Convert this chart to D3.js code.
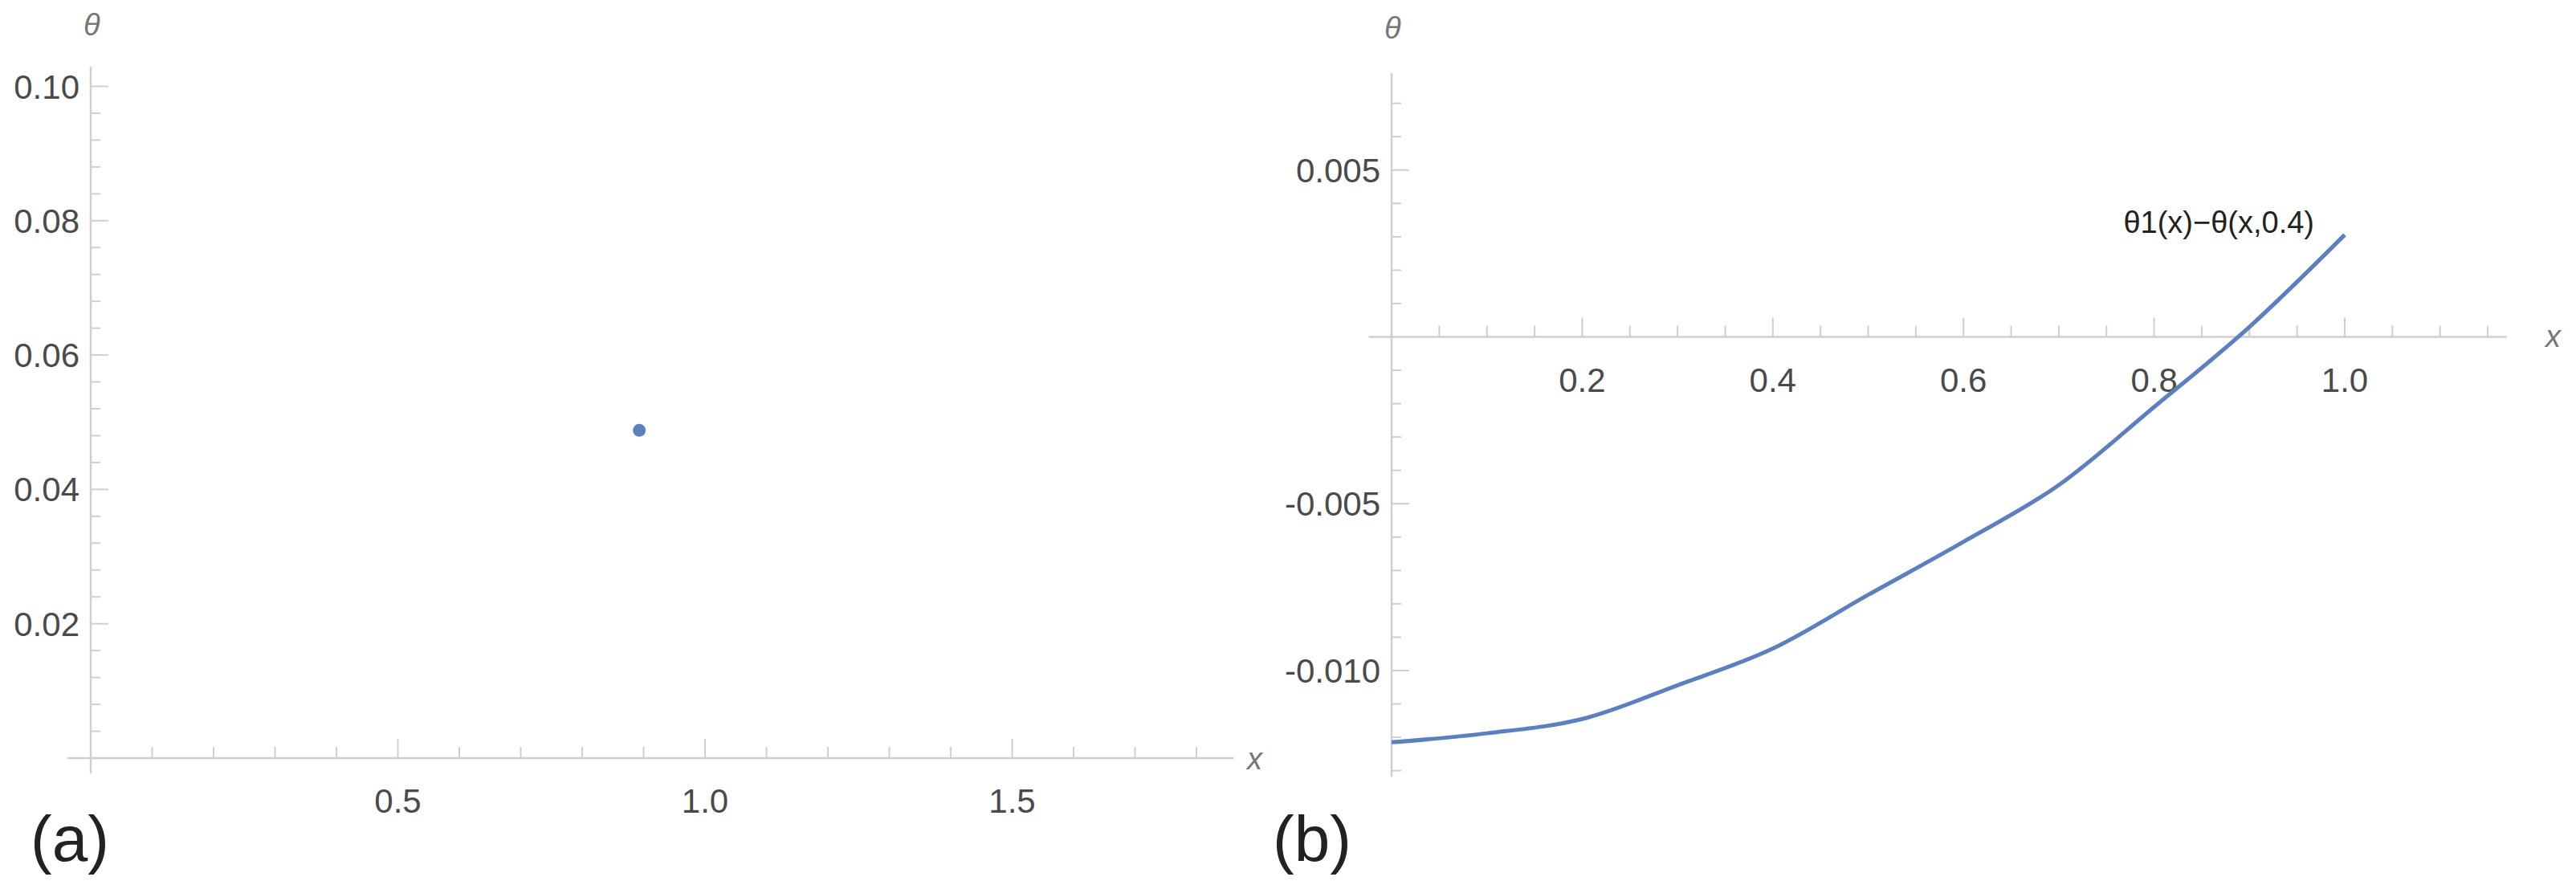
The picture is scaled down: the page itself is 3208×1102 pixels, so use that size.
<!DOCTYPE html>
<html><head><meta charset="utf-8">
<script src="https://cdn.jsdelivr.net/npm/d3@7"></script>
<style>body{margin:0;background:#fff}svg{display:block}text{font-family:"Liberation Sans",Arial,sans-serif;}</style>
</head><body>
<script>
// Panel (a) data
const pointA = [{x:0.893, y:0.0488}];
const ticksAx = [0.5, 1.0, 1.5];
const ticksAy = [0.02, 0.04, 0.06, 0.08, 0.10];
// Panel (b) data
const curveX = [0, 0.1, 0.2, 0.3, 0.4, 0.5, 0.6, 0.7, 0.8, 0.9, 1.0];
const curveY = [-0.01215, -0.01188, -0.01145, -0.01044, -0.00934, -0.00773, -0.00614, -0.00444, -0.0021, 0.0003, 0.00306];
const ticksBx = [0.2, 0.4, 0.6, 0.8, 1.0];
const ticksBy = [-0.010, -0.005, 0.005];
const labelB = "θ1(x)−θ(x,0.4)";

const W=3208,H=1102;
const svg=d3.select("body").append("svg").attr("width",W).attr("height",H);
const axCol="#cfcfcf", txtCol="#4a4a4a", blue="#5b7fbf";

function axes(g, x, y, xd, yd, xt, yt, xMinor, yMinor, fmtY, fmtX){
  const x0=x(0), y0=y(0);
  g.append("line").attr("x1",x(xd[0])).attr("x2",x(xd[1])).attr("y1",y0).attr("y2",y0).attr("stroke",axCol).attr("stroke-width",2.5);
  g.append("line").attr("x1",x0).attr("x2",x0).attr("y1",y(yd[0])).attr("y2",y(yd[1])).attr("stroke",axCol).attr("stroke-width",2.5);
  xMinor.forEach(v=>g.append("line").attr("x1",x(v)).attr("x2",x(v)).attr("y1",y0).attr("y2",y0-14).attr("stroke",axCol).attr("stroke-width",2));
  xt.forEach(v=>{g.append("line").attr("x1",x(v)).attr("x2",x(v)).attr("y1",y0).attr("y2",y0-24).attr("stroke",axCol).attr("stroke-width",2);
    g.append("text").attr("x",x(v)).attr("y",y0+68).attr("text-anchor","middle").attr("font-size",42).attr("fill",txtCol).text(fmtX(v));});
  yMinor.forEach(v=>g.append("line").attr("x1",x0).attr("x2",x0+12).attr("y1",y(v)).attr("y2",y(v)).attr("stroke",axCol).attr("stroke-width",2));
  yt.forEach(v=>{g.append("line").attr("x1",x0).attr("x2",x0+22).attr("y1",y(v)).attr("y2",y(v)).attr("stroke",axCol).attr("stroke-width",2);
    g.append("text").attr("x",x0-14).attr("y",y(v)+15).attr("text-anchor","end").attr("font-size",42).attr("fill",txtCol).text(fmtY(v));});
}
function range(a,b,s){const r=[];for(let v=a;v<=b+1e-9;v+=s)r.push(+v.toFixed(6));return r;}

// Panel (a)
const xa=d3.scaleLinear().domain([0,1]).range([113,878]);
const ya=d3.scaleLinear().domain([0,0.1]).range([944,107.5]);
const ga=svg.append("g");
axes(ga,xa,ya,[-0.038,1.861],[-0.0023,0.1029],ticksAx,ticksAy,
  range(0.1,1.8,0.1).filter(v=>!ticksAx.some(t=>Math.abs(t-v)<1e-6)),
  range(0.004,0.1,0.004).filter(v=>!ticksAy.some(t=>Math.abs(t-v)<1e-6)),
  v=>v.toFixed(2), v=>v.toFixed(1));
ga.selectAll("circle").data(pointA).join("circle").attr("cx",d=>xa(d.x)).attr("cy",d=>ya(d.y)).attr("r",8).attr("fill",blue);
ga.append("text").attr("x",1553).attr("y",958).attr("font-size",38).attr("font-style","italic").attr("fill","#777").text("x");
ga.append("text").attr("x",104).attr("y",44).attr("font-size",38).attr("font-style","italic").attr("fill","#777").text("θ");
svg.append("text").attr("x",38).attr("y",1072).attr("font-family","Liberation Serif,serif").attr("font-size",80).attr("fill","#222").text("(a)");

// Panel (b)
const xb=d3.scaleLinear().domain([0,1]).range([1733,2920]);
const yb=d3.scaleLinear().domain([-0.01,0]).range([835,419.5]);
const gb=svg.append("g");
axes(gb,xb,yb,[-0.024,1.17],[-0.01318,0.0079],ticksBx,ticksBy,
  range(0.05,1.15,0.05).filter(v=>!ticksBx.some(t=>Math.abs(t-v)<1e-6)),
  range(-0.013,0.0075,0.001).filter(v=>Math.abs(v)>1e-7&&!ticksBy.some(t=>Math.abs(t-v)<1e-6)),
  v=>v.toFixed(3).replace("−","-"), v=>v.toFixed(1));
const line=d3.line().x(d=>xb(d[0])).y(d=>yb(d[1])).curve(d3.curveMonotoneX);
gb.append("path").attr("d",line(curveX.map((v,i)=>[v,curveY[i]]))).attr("fill","none").attr("stroke",blue).attr("stroke-width",5);
gb.append("text").attr("x",2882).attr("y",290).attr("text-anchor","end").attr("font-size",38).attr("fill","#222").text(labelB);
gb.append("text").attr("x",3170).attr("y",432).attr("font-size",38).attr("font-style","italic").attr("fill","#777").text("x");
gb.append("text").attr("x",1724).attr("y",48).attr("font-size",38).attr("font-style","italic").attr("fill","#777").text("θ");
svg.append("text").attr("x",1585).attr("y",1072).attr("font-family","Liberation Serif,serif").attr("font-size",80).attr("fill","#222").text("(b)");
</script>
</body></html>
